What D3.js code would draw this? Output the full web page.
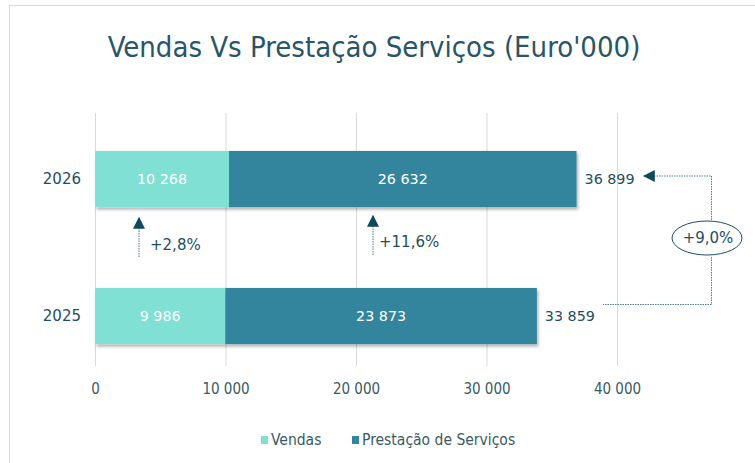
<!DOCTYPE html>
<html><head><meta charset="utf-8">
<script src="https://cdn.jsdelivr.net/npm/d3@7"></script>
<style>body{margin:0;background:#fff}svg{display:block}</style>
</head><body>
<script>
const years = ["2026", "2025"];
const vendas = [10268, 9986];
const prestacao = [26632, 23873];
const totals = [36899, 33859];
const xTicks = [0, 10000, 20000, 30000, 40000];
const growthLabels = ["+2,8%", "+11,6%", "+9,0%"];
const seriesNames = ["Vendas", "Prestação de Serviços"];
const colors = ["#80E0D4", "#31859C"];
const title = "Vendas Vs Prestação Serviços (Euro'000)";

const W = 755, H = 463;
const textDark = "#1F4E5F";
const condensed = "'DejaVu Sans Condensed', 'DejaVu Sans', sans-serif";
const wide = "'DejaVu Sans', Verdana, sans-serif";
const fmt = v => d3.format(",")(v).replace(/,/g, " ");

const svg = d3.select("body").append("svg").attr("width", W).attr("height", H);
const defs = svg.append("defs");
const f = defs.append("filter").attr("id", "sh").attr("x", "-10%").attr("y", "-20%").attr("width", "120%").attr("height", "150%");
f.append("feDropShadow").attr("dx", 1.5).attr("dy", 2.5).attr("stdDeviation", 1.8).attr("flood-color", "#000").attr("flood-opacity", 0.3);
const mk = defs.append("marker").attr("id", "tri").attr("viewBox", "0 0 10 10").attr("refX", 9).attr("refY", 5)
  .attr("markerWidth", 12).attr("markerHeight", 12).attr("markerUnits", "userSpaceOnUse").attr("orient", "auto");
mk.append("path").attr("d", "M0,0L10,5L0,10Z").attr("fill", "#0E4A5C");

// border
svg.append("rect").attr("x", 9.5).attr("y", 5.5).attr("width", W).attr("height", H).attr("fill", "none").attr("stroke", "#D9D9D9");

svg.append("text").attr("x", 374).attr("y", 57).attr("text-anchor", "middle")
  .attr("font-family", condensed).attr("font-size", 29).attr("fill", "#2A5566").text(title);

const x = d3.scaleLinear().domain([0, 40000]).range([95, 617]);
const y = d3.scaleBand().domain(years).range([110.5, 384.5]).paddingInner(0.59).paddingOuter(0.295);

// gridlines
svg.append("g").selectAll("line").data(xTicks).join("line")
  .attr("x1", d => x(d) + 0.5).attr("x2", d => x(d) + 0.5).attr("y1", 113).attr("y2", 366)
  .attr("stroke", "#D9D9D9").attr("stroke-width", 1);

// x axis labels
const xAxis = d3.axisBottom(x).tickValues(xTicks).tickFormat(fmt).tickSize(0).tickPadding(0);
const gx = svg.append("g").attr("transform", "translate(0,383)").call(xAxis);
gx.select(".domain").remove();
gx.selectAll("text").attr("font-family", condensed).attr("font-size", 15).attr("fill", "#3A5A66");

// y labels
const yAxis = d3.axisLeft(y).tickSize(0).tickPadding(0);
const gy = svg.append("g").attr("transform", "translate(81,0)").call(yAxis);
gy.select(".domain").remove();
gy.selectAll("text").attr("font-family", wide).attr("font-size", 15).attr("fill", textDark);

// bars
const stacked = years.map((yr, i) => ({ yr, segs: [[0, vendas[i]], [vendas[i], vendas[i] + prestacao[i]]], vals: [vendas[i], prestacao[i]] }));
const rows = svg.append("g").selectAll("g").data(stacked).join("g");
rows.append("g").attr("filter", "url(#sh)").selectAll("rect").data(d => d.segs.map((s, k) => ({ s, k, yr: d.yr }))).join("rect")
  .attr("x", d => x(d.s[0])).attr("width", d => x(d.s[1]) - x(d.s[0]))
  .attr("y", d => y(d.yr)).attr("height", y.bandwidth()).attr("fill", d => colors[d.k]);
rows.selectAll("text.v").data(d => d.segs.map((s, k) => ({ s, k, yr: d.yr, v: d.vals[k] }))).join("text")
  .attr("class", "v").attr("x", d => (x(d.s[0]) + x(d.s[1])) / 2).attr("y", d => y(d.yr) + y.bandwidth() / 2)
  .attr("dy", "0.35em").attr("text-anchor", "middle").attr("font-family", wide).attr("font-size", 14.3)
  .attr("fill", "#fff").text(d => fmt(d.v));

// totals
svg.append("g").selectAll("text").data(years).join("text")
  .attr("x", (d, i) => x(totals[i]) + 8).attr("y", d => y(d) + y.bandwidth() / 2).attr("dy", "0.35em")
  .attr("font-family", wide).attr("font-size", 14.3).attr("fill", textDark).text((d, i) => fmt(totals[i]));

// growth arrows between bars
const ann = svg.append("g");
[[139, 218, 257, 150, 245], [373, 216, 255, 379, 242]].forEach((a, i) => {
  ann.append("line").attr("x1", a[0]).attr("x2", a[0]).attr("y1", a[2]).attr("y2", a[1])
    .attr("stroke", "#4A7F90").attr("stroke-width", 1).attr("stroke-dasharray", "1.5,1")
    .attr("marker-end", "url(#tri)");
  ann.append("text").attr("x", a[3]).attr("y", a[4]).attr("dy", "0.35em").attr("font-family", wide)
    .attr("font-size", 15).attr("fill", textDark).text(growthLabels[i]);
});

// total growth connector
const yTop = y("2026") + y.bandwidth() / 2 - 3;
ann.append("path").attr("d", `M711.5,220 V${yTop} H644`).attr("fill", "none")
  .attr("stroke", "#4A7F90").attr("stroke-width", 1).attr("stroke-dasharray", "1.5,1").attr("marker-end", "url(#tri)");
ann.append("path").attr("d", `M711.5,257 V304.5 H603`).attr("fill", "none")
  .attr("stroke", "#4A7F90").attr("stroke-width", 1).attr("stroke-dasharray", "1.5,1");
ann.append("ellipse").attr("cx", 707).attr("cy", 238).attr("rx", 35).attr("ry", 17)
  .attr("fill", "#fff").attr("stroke", "#1F4E5F").attr("stroke-width", 1);
ann.append("text").attr("x", 708).attr("y", 238).attr("dy", "0.35em").attr("text-anchor", "middle")
  .attr("font-family", wide).attr("font-size", 15).attr("fill", textDark).text(growthLabels[2]);

// legend
const leg = svg.append("g").attr("transform", "translate(0,440)");
const legX = [261, 352];
seriesNames.forEach((n, i) => {
  leg.append("rect").attr("x", legX[i]).attr("y", -4).attr("width", 7).attr("height", 8).attr("fill", colors[i]);
  leg.append("text").attr("x", legX[i] + 10).attr("y", 0).attr("dy", "0.35em").attr("font-family", condensed)
    .attr("font-size", 15.5).attr("fill", "#3A5A66").text(n);
});
</script>
</body></html>
